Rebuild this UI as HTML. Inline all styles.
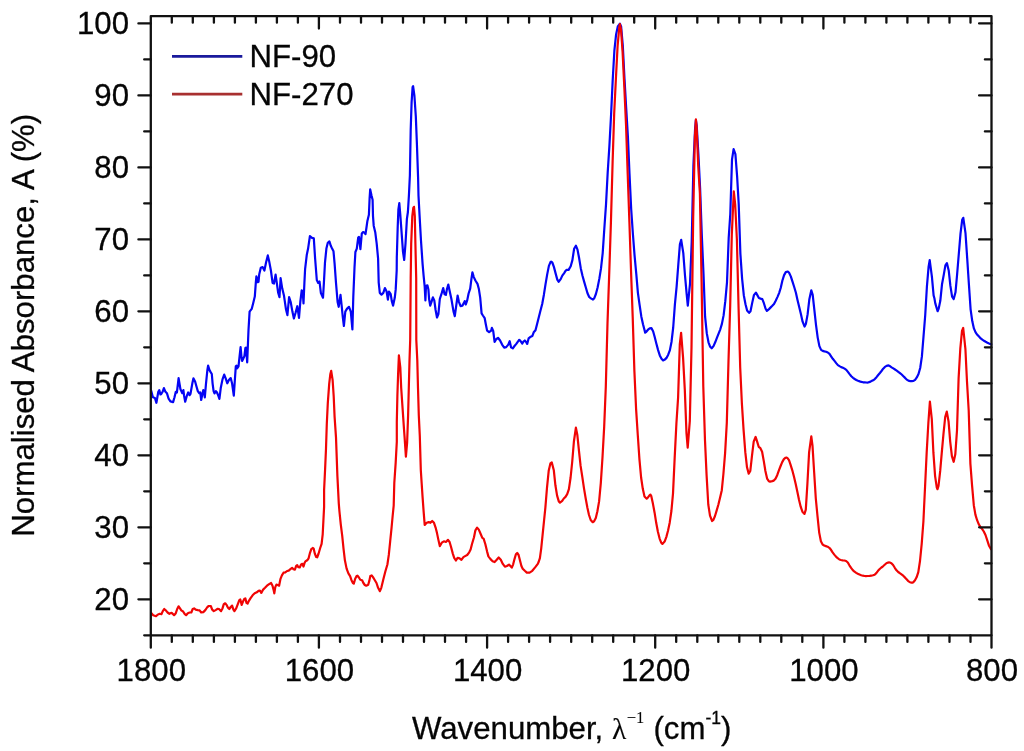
<!DOCTYPE html>
<html><head><meta charset="utf-8"><title>FTIR</title>
<style>
html,body{margin:0;padding:0;background:#fff;}
body{width:1024px;height:751px;overflow:hidden;font-family:"Liberation Sans",sans-serif;}
svg{display:block;will-change:transform;transform:translateZ(0)}
text{font-family:"Liberation Sans",sans-serif;fill:#050505;stroke:#050505;stroke-width:0.3px;}
.ser{font-family:"Liberation Serif",serif;stroke-width:0.1px;}
</style></head><body>
<svg width="1024" height="751" viewBox="0 0 1024 751">
<rect width="1024" height="751" fill="#fff"/>
<clipPath id="cp"><rect x="150.8" y="16.1" width="841.7" height="619.2"/></clipPath>
<g clip-path="url(#cp)">
<path d="M151.2,390.7 L152.9,397.3 L154.9,398.0 L156.4,402.8 L158.3,391.8 L159.3,390.1 L160.4,394.5 L161.4,393.8 L162.6,391.8 L163.9,388.1 L165.3,391.5 L166.9,393.2 L168.6,398.6 L170.4,401.4 L173.1,402.1 L174.5,397.3 L175.8,391.8 L176.9,392.5 L178.6,378.1 L180.4,389.0 L181.3,391.1 L182.3,393.2 L183.4,390.1 L184.1,395.9 L185.2,401.7 L186.8,395.9 L188.2,392.5 L189.6,395.2 L190.5,393.8 L192.3,383.6 L193.4,378.4 L195.1,381.5 L196.4,386.3 L197.8,391.1 L199.2,393.2 L200.3,392.5 L201.2,400.0 L202.3,394.5 L203.3,390.1 L204.0,391.8 L204.8,397.3 L206.0,383.6 L207.4,369.9 L208.1,365.7 L209.4,369.9 L210.5,371.9 L211.8,374.0 L212.6,383.6 L213.6,391.1 L214.5,393.4 L215.9,391.1 L217.0,392.5 L218.4,395.9 L219.4,398.9 L220.8,387.7 L222.5,379.4 L224.2,374.6 L225.6,378.1 L227.3,383.3 L228.9,380.1 L230.7,378.1 L232.1,383.6 L233.8,395.6 L234.8,380.8 L235.8,366.4 L236.6,365.7 L237.1,368.5 L238.5,366.4 L239.6,356.1 L240.6,347.2 L241.4,356.1 L242.1,360.9 L243.2,358.9 L244.4,356.1 L245.4,347.9 L246.1,347.6 L247.2,362.3 L248.1,339.7 L248.5,330.1 L249.6,311.6 L251.7,308.9 L253.3,302.7 L254.8,296.6 L255.8,282.9 L256.4,276.3 L257.7,282.2 L258.5,281.8 L259.2,274.6 L260.8,267.8 L262.6,267.1 L264.4,270.5 L266.1,262.3 L267.8,255.4 L269.1,260.9 L270.9,270.5 L272.6,282.9 L274.0,283.5 L275.6,274.6 L276.8,282.9 L278.1,292.4 L279.5,297.2 L280.6,278.1 L282.2,288.3 L283.9,295.2 L285.9,308.9 L287.4,315.1 L289.1,297.2 L290.7,302.0 L292.4,311.6 L293.9,318.5 L295.5,313.0 L297.3,306.2 L299.0,317.8 L300.3,302.0 L301.7,290.4 L302.7,291.1 L303.5,303.4 L304.4,282.9 L305.1,269.1 L306.8,254.7 L308.1,248.6 L309.9,236.2 L312.0,237.9 L313.8,238.3 L315.1,258.2 L316.8,280.1 L318.2,282.9 L319.5,281.5 L320.9,293.1 L323.0,297.7 L323.9,282.9 L325.0,262.3 L326.4,248.6 L327.8,242.8 L329.4,241.4 L330.8,245.8 L332.1,248.6 L333.5,251.3 L334.6,263.6 L336.0,282.9 L337.6,302.0 L338.7,306.8 L340.5,294.8 L341.7,306.2 L342.8,317.1 L343.9,326.0 L345.3,311.6 L346.9,308.9 L349.0,306.8 L350.8,311.6 L352.4,329.5 L353.3,296.6 L354.5,267.8 L355.4,252.0 L356.8,248.6 L358.2,237.6 L359.0,236.9 L360.4,249.2 L361.8,233.5 L363.1,232.1 L364.5,232.8 L365.5,234.2 L366.4,228.0 L367.4,220.9 L368.9,214.8 L369.6,198.3 L370.2,189.4 L371.5,195.6 L372.6,199.7 L373.0,216.1 L373.7,225.7 L375.3,232.6 L376.7,243.6 L378.1,258.6 L378.7,282.6 L379.8,292.9 L381.5,294.6 L383.3,292.9 L384.9,288.1 L386.6,291.5 L387.9,299.7 L389.0,291.5 L390.7,294.2 L391.8,301.1 L393.1,305.6 L394.8,297.6 L395.7,289.4 L396.7,270.2 L396.8,257.3 L397.7,227.1 L398.4,209.3 L399.3,203.1 L400.3,214.8 L401.6,232.6 L403.0,251.8 L404.2,260.0 L405.5,243.6 L406.9,218.9 L407.9,212.0 L408.9,195.6 L409.9,175.0 L410.7,129.8 L411.6,102.4 L412.6,87.1 L413.1,86.2 L414.4,95.6 L415.8,116.1 L416.9,143.6 L418.1,178.0 L418.5,195.6 L419.6,216.1 L421.0,240.8 L422.6,264.1 L423.6,275.7 L424.7,286.7 L425.4,300.4 L426.0,286.0 L427.4,285.3 L428.4,289.4 L429.1,299.0 L430.2,305.6 L431.5,301.8 L432.9,297.4 L434.3,300.4 L435.6,310.0 L437.0,317.5 L438.4,314.1 L439.8,299.0 L441.8,292.9 L443.2,288.1 L444.6,294.2 L445.9,294.9 L446.9,289.4 L448.3,284.6 L449.6,290.8 L451.4,299.0 L453.5,311.4 L454.8,316.2 L456.2,305.9 L457.6,295.6 L458.9,301.8 L460.6,306.1 L462.4,305.6 L463.8,303.1 L464.7,301.1 L465.8,304.5 L467.2,300.4 L468.6,293.5 L470.2,288.7 L471.3,279.8 L472.4,272.3 L473.8,277.1 L475.4,280.5 L477.5,283.9 L478.8,288.7 L480.2,297.6 L481.6,313.4 L482.9,315.5 L484.7,318.2 L485.7,323.7 L487.1,330.6 L489.1,332.2 L491.2,330.6 L491.9,327.9 L493.2,330.9 L494.6,341.9 L496.2,339.1 L498.0,337.8 L500.1,340.5 L502.1,344.6 L504.2,347.6 L506.2,347.1 L508.3,344.6 L509.7,341.2 L511.1,347.4 L512.8,348.4 L514.5,346.0 L516.3,343.9 L517.9,341.6 L519.3,339.8 L520.9,341.6 L522.3,343.5 L523.4,341.6 L524.8,340.5 L526.1,341.9 L527.2,343.9 L528.6,338.4 L530.2,337.1 L532.3,336.1 L533.7,332.3 L535.5,330.2 L537.1,323.9 L538.8,317.2 L540.5,310.6 L542.2,304.0 L543.9,294.7 L545.5,284.3 L547.2,274.4 L548.9,265.9 L550.6,261.9 L551.5,261.7 L552.3,262.5 L553.9,266.9 L555.6,273.4 L557.3,279.6 L558.6,281.8 L560.7,279.1 L562.3,275.6 L564.0,273.3 L565.7,270.7 L566.6,269.9 L567.4,269.9 L568.6,269.9 L570.7,266.3 L572.4,260.1 L574.1,248.8 L575.9,245.7 L577.5,249.6 L579.1,258.0 L580.8,268.4 L582.5,275.7 L584.2,281.9 L585.9,287.8 L587.5,293.2 L589.2,297.0 L590.9,298.4 L593.0,299.6 L594.3,298.2 L595.9,294.0 L597.6,287.5 L599.3,278.9 L601.0,268.4 L602.7,253.1 L604.3,229.0 L606.0,204.7 L607.7,172.4 L609.4,145.9 L611.1,114.2 L612.7,80.1 L614.4,50.3 L616.1,34.4 L617.8,26.4 L619.9,23.7 L621.1,26.4 L622.8,45.5 L624.5,78.7 L626.2,108.2 L627.9,136.6 L629.5,173.9 L631.2,209.2 L632.9,234.0 L634.6,255.9 L636.3,274.2 L637.9,292.8 L639.6,304.9 L641.3,316.4 L643.0,324.2 L645.2,332.6 L646.3,331.8 L648.0,329.7 L649.7,328.4 L651.4,328.1 L653.1,331.2 L654.7,337.0 L656.4,343.8 L658.1,350.1 L659.8,355.4 L661.5,358.8 L663.1,360.4 L664.8,359.6 L666.5,357.9 L668.2,354.7 L669.9,350.1 L671.5,342.0 L673.2,327.5 L674.9,304.3 L676.6,286.9 L678.3,264.6 L679.9,244.4 L681.2,239.8 L683.3,253.2 L685.0,275.5 L686.7,294.4 L687.8,305.6 L690.0,283.8 L691.7,242.4 L693.4,165.9 L695.1,128.4 L695.9,120.1 L696.7,125.4 L698.4,154.3 L700.1,188.1 L701.8,235.0 L703.5,273.8 L705.1,316.7 L706.8,333.4 L708.5,342.3 L710.2,346.8 L711.7,348.3 L713.5,346.1 L715.2,342.3 L716.9,337.9 L718.6,333.7 L720.3,329.3 L721.9,323.9 L723.6,315.4 L725.3,301.2 L727.0,282.3 L728.7,237.9 L730.3,214.0 L732.0,159.6 L733.6,149.2 L735.4,154.1 L737.1,176.1 L738.7,203.9 L740.4,253.9 L742.1,278.6 L743.8,295.2 L745.5,304.3 L747.1,310.5 L749.1,312.9 L750.5,311.3 L752.2,302.9 L753.9,295.2 L755.9,292.6 L757.2,294.9 L758.9,298.0 L760.6,298.6 L762.3,299.1 L763.9,303.2 L765.6,308.7 L766.9,310.9 L769.0,309.1 L770.7,307.4 L772.3,305.8 L774.0,304.0 L775.7,300.7 L777.4,297.1 L779.1,293.1 L780.7,288.0 L782.4,280.5 L784.1,275.1 L785.8,272.1 L787.8,271.5 L789.1,272.8 L790.8,276.4 L792.5,281.7 L794.2,287.0 L795.9,292.7 L797.5,299.9 L799.2,307.1 L800.9,314.1 L802.6,321.7 L804.6,326.6 L805.9,323.7 L807.6,314.4 L809.3,299.6 L811.3,290.3 L812.7,294.9 L814.3,309.3 L816.0,324.8 L817.7,337.6 L819.4,346.1 L821.1,349.9 L822.7,350.9 L824.4,351.4 L826.1,351.8 L827.8,352.5 L829.5,353.9 L831.1,356.3 L832.8,358.8 L834.5,360.9 L836.2,363.1 L837.9,365.1 L839.5,366.1 L841.2,367.1 L842.9,367.7 L844.6,368.6 L846.3,369.8 L847.9,371.9 L849.6,374.1 L851.3,376.2 L853.0,377.8 L854.7,379.0 L856.3,380.0 L858.0,380.8 L859.7,381.4 L861.4,381.9 L863.1,382.3 L864.7,382.4 L866.4,382.5 L867.2,382.6 L868.1,382.5 L869.8,381.9 L871.5,381.1 L873.1,380.3 L874.8,379.1 L876.5,377.2 L878.2,375.0 L879.9,373.0 L881.5,371.0 L883.2,368.7 L884.9,366.9 L886.6,365.9 L888.5,365.4 L889.9,366.1 L891.6,367.3 L893.3,368.4 L895.0,369.5 L896.7,370.6 L898.3,371.8 L900.0,373.1 L901.7,374.5 L903.4,376.2 L905.1,377.9 L906.7,379.6 L908.4,380.6 L910.4,381.2 L911.8,381.1 L913.5,380.9 L915.1,379.8 L916.8,377.4 L918.5,374.0 L920.2,368.0 L921.9,356.4 L923.5,336.7 L925.2,315.5 L926.9,286.7 L928.6,266.7 L929.7,260.1 L931.9,276.7 L933.6,295.4 L934.4,298.2 L935.3,303.4 L937.6,311.2 L938.7,308.6 L940.3,300.8 L942.0,284.3 L943.7,275.1 L945.4,265.4 L946.9,263.1 L948.7,270.4 L950.4,285.9 L952.1,296.7 L953.7,299.0 L955.5,292.3 L957.1,274.5 L958.8,254.0 L960.5,233.7 L962.2,219.8 L963.3,217.8 L965.5,233.2 L967.2,258.4 L968.9,284.2 L970.6,309.3 L972.3,321.3 L973.9,328.4 L975.6,332.4 L977.3,334.8 L979.0,336.6 L980.7,338.4 L982.3,339.7 L984.0,340.8 L985.7,341.8 L987.4,342.7 L989.1,343.5 L990.7,344.2 L991.6,344.4" fill="none" stroke="#0404f4" stroke-width="2.2" stroke-linejoin="round" stroke-linecap="round"/>
<path d="M151.2,612.9 L153.2,615.2 L156.0,616.2 L158.0,614.5 L159.8,613.8 L161.4,614.2 L162.8,611.1 L164.2,609.0 L165.8,610.4 L167.6,612.5 L169.4,613.8 L171.1,612.9 L172.4,613.4 L174.1,615.2 L175.8,613.2 L177.2,609.0 L178.6,606.3 L180.0,608.4 L181.3,610.4 L183.1,611.5 L184.8,614.2 L186.1,615.2 L187.8,613.2 L189.6,612.5 L191.3,612.5 L192.7,609.0 L194.1,608.4 L195.7,609.7 L197.8,610.1 L199.6,610.4 L201.2,612.5 L203.3,612.1 L205.3,610.1 L207.4,607.0 L208.8,606.0 L210.8,606.0 L212.2,609.7 L213.8,611.1 L215.6,610.1 L217.7,608.8 L219.0,609.0 L221.1,611.1 L222.5,608.4 L223.8,604.2 L225.2,603.3 L226.6,604.9 L228.0,607.7 L229.3,609.0 L230.7,607.0 L232.1,605.6 L233.4,609.7 L234.4,611.1 L236.2,608.4 L238.0,603.6 L239.3,600.1 L240.3,599.5 L241.7,604.9 L243.0,601.5 L244.4,598.8 L245.4,598.4 L246.5,602.9 L247.6,603.6 L248.9,600.8 L250.6,598.1 L252.6,595.3 L254.7,593.3 L256.8,592.3 L258.5,590.9 L259.9,590.5 L261.3,592.9 L262.9,589.9 L265.0,587.8 L267.0,585.7 L269.1,584.1 L271.1,583.0 L272.5,585.7 L273.6,589.9 L274.3,593.3 L275.3,587.1 L276.4,584.6 L277.7,585.0 L279.1,585.7 L280.5,578.8 L281.9,575.4 L283.5,572.7 L285.3,572.4 L287.1,571.0 L288.7,570.6 L290.4,569.2 L292.1,567.9 L293.5,569.2 L294.9,569.7 L296.2,565.8 L297.2,565.1 L298.3,567.2 L299.7,567.5 L301.1,564.5 L302.4,563.8 L303.5,566.5 L304.5,563.1 L305.4,561.4 L307.2,560.3 L308.6,558.3 L310.0,552.8 L311.3,549.1 L312.7,548.0 L313.7,548.7 L314.8,553.5 L316.1,556.9 L317.2,557.3 L318.6,553.5 L320.2,548.0 L321.6,543.9 L322.7,534.3 L323.4,520.6 L324.1,506.9 L324.1,489.9 L325.1,469.3 L326.0,448.7 L326.8,423.7 L327.8,403.1 L329.2,383.9 L330.3,374.3 L331.2,370.9 L332.6,379.8 L333.7,396.3 L334.6,416.9 L336.0,437.4 L337.4,476.1 L338.8,503.6 L339.4,511.0 L340.8,524.7 L342.2,535.6 L343.6,549.4 L344.9,560.3 L346.6,568.6 L348.4,573.4 L350.1,576.1 L351.5,580.2 L352.9,583.0 L353.8,583.6 L355.2,578.8 L356.6,576.1 L357.5,575.7 L358.9,577.5 L360.3,579.8 L362.1,580.2 L363.4,583.0 L364.8,585.0 L366.2,585.7 L368.2,584.7 L369.3,580.9 L370.3,576.1 L371.7,575.4 L373.0,577.1 L374.4,579.5 L376.5,583.0 L378.1,587.8 L379.9,591.2 L381.3,587.8 L383.3,579.5 L385.4,571.3 L387.4,564.5 L388.8,554.9 L390.2,541.1 L391.6,527.4 L392.6,516.5 L393.7,505.5 L394.3,483.0 L395.7,462.4 L396.8,441.9 L396.8,422.3 L397.4,394.9 L398.1,374.3 L398.9,355.4 L400.3,367.4 L401.2,388.0 L402.6,408.6 L404.0,429.1 L404.6,437.4 L405.9,456.6 L407.1,443.0 L408.1,415.4 L408.8,388.0 L409.5,360.6 L410.2,340.0 L410.7,278.0 L411.2,243.6 L412.3,216.1 L413.3,207.9 L414.0,206.8 L414.8,216.1 L415.4,243.6 L416.2,278.0 L416.3,340.0 L417.3,360.6 L418.0,388.0 L418.8,415.4 L419.8,436.0 L420.8,470.0 L421.7,483.7 L422.6,497.4 L423.6,511.1 L424.7,524.9 L426.7,522.8 L428.8,522.1 L430.4,522.8 L432.2,521.0 L434.0,522.8 L435.6,527.6 L437.0,533.1 L438.4,539.9 L439.8,546.1 L441.8,542.7 L443.9,541.3 L445.9,542.0 L448.0,539.9 L449.6,542.0 L451.0,546.8 L452.8,553.6 L454.2,557.8 L455.9,560.5 L457.6,557.8 L459.6,558.4 L461.4,559.8 L463.4,557.1 L465.1,556.1 L467.2,555.0 L469.2,552.3 L470.6,549.5 L472.0,544.0 L474.0,537.2 L475.4,530.3 L477.1,527.6 L478.8,529.6 L480.9,534.5 L482.3,537.9 L483.6,538.6 L485.3,544.0 L487.1,551.6 L488.4,556.4 L490.5,559.1 L492.6,561.2 L494.6,562.1 L496.7,559.8 L498.7,557.5 L500.8,559.8 L502.8,563.9 L504.9,566.7 L506.9,566.0 L509.0,564.6 L510.4,566.0 L511.8,567.6 L513.1,564.6 L514.5,559.1 L515.9,554.3 L517.2,553.0 L518.6,555.0 L520.0,560.5 L521.4,566.0 L522.7,568.7 L524.8,570.8 L526.8,572.6 L529.6,572.6 L532.3,570.8 L535.1,567.4 L537.8,563.9 L538.5,562.3 L539.9,558.2 L541.2,548.6 L542.6,534.9 L544.0,521.1 L545.4,507.4 L547.0,487.6 L548.7,470.8 L550.4,463.5 L551.8,462.5 L553.8,470.2 L555.4,485.3 L557.1,495.6 L558.8,501.4 L560.0,502.6 L562.2,500.9 L563.8,498.5 L565.5,496.9 L567.2,494.2 L568.9,489.1 L570.6,477.5 L572.2,462.0 L573.9,441.5 L575.9,427.6 L577.3,434.6 L579.0,451.2 L580.6,465.9 L582.3,476.9 L584.0,488.4 L585.7,498.5 L587.4,507.8 L589.0,515.0 L590.7,520.0 L592.7,522.2 L594.1,521.3 L595.8,518.1 L597.4,511.2 L599.1,501.4 L600.8,483.1 L602.5,457.2 L604.2,426.4 L605.8,386.8 L607.5,323.1 L609.2,274.2 L610.9,222.9 L612.6,162.5 L614.2,113.1 L615.9,78.7 L617.6,45.9 L619.3,27.2 L619.9,24.1 L621.0,29.4 L622.6,52.1 L624.3,86.6 L626.0,124.2 L627.7,174.0 L629.4,222.0 L631.0,270.0 L632.7,316.9 L634.4,371.1 L636.1,409.1 L637.8,435.2 L639.4,458.8 L641.1,477.5 L642.8,488.8 L644.5,496.5 L646.7,498.7 L647.8,497.7 L649.5,495.4 L650.4,494.6 L651.2,495.8 L652.9,503.6 L654.6,512.7 L656.2,522.8 L657.9,531.8 L659.6,538.6 L661.3,542.8 L662.4,543.9 L664.6,541.6 L666.3,537.1 L668.0,530.8 L669.7,522.7 L671.4,511.0 L673.0,493.6 L674.7,457.4 L676.4,423.5 L678.1,397.6 L679.8,344.1 L681.1,332.9 L683.1,358.1 L684.8,389.6 L686.5,433.5 L687.7,447.6 L689.8,421.2 L691.5,347.6 L693.2,216.8 L694.9,136.6 L695.9,119.4 L696.6,126.6 L698.2,165.5 L699.9,193.7 L701.6,282.2 L703.3,386.7 L705.0,440.5 L706.6,475.4 L708.3,504.7 L710.0,515.7 L712.1,521.0 L713.4,519.9 L715.0,516.0 L716.7,510.4 L718.4,504.5 L720.1,497.6 L721.8,490.2 L723.4,474.0 L725.1,453.1 L726.8,422.9 L728.5,361.0 L730.2,305.4 L731.8,234.5 L733.8,191.3 L735.2,204.6 L736.9,239.8 L738.6,308.8 L740.2,367.5 L741.9,403.8 L743.6,430.1 L745.3,452.2 L747.0,467.3 L748.7,473.6 L750.3,471.0 L752.0,455.7 L753.7,441.7 L755.6,436.9 L757.0,441.1 L758.7,446.8 L760.4,448.2 L762.1,451.7 L763.8,461.1 L765.4,471.0 L767.1,478.6 L768.8,481.2 L770.0,481.6 L772.2,481.1 L773.8,480.6 L775.5,478.8 L777.2,475.2 L778.9,470.4 L780.6,466.0 L782.2,462.1 L783.9,459.1 L785.6,457.7 L786.4,457.5 L787.3,457.9 L789.0,460.2 L790.6,464.9 L792.3,470.3 L794.0,476.7 L795.7,484.0 L797.4,492.0 L799.0,499.7 L800.7,506.7 L802.4,511.7 L804.5,513.9 L805.8,509.6 L807.4,483.7 L809.1,452.4 L811.3,436.4 L812.5,445.6 L814.2,473.0 L815.8,498.5 L817.5,516.2 L819.2,532.6 L820.9,541.3 L822.6,544.5 L824.2,545.5 L825.9,546.1 L827.6,546.7 L829.3,547.8 L831.0,549.8 L832.6,552.4 L834.3,554.6 L836.0,556.6 L837.7,558.2 L839.4,559.5 L841.0,560.0 L842.7,560.4 L844.4,560.5 L846.1,561.0 L847.8,562.5 L849.4,565.3 L851.1,567.9 L852.8,570.1 L854.5,571.7 L856.2,572.9 L857.8,573.8 L859.5,574.6 L861.2,575.3 L862.9,575.7 L864.6,576.0 L865.8,576.1 L867.9,576.0 L869.6,575.9 L871.3,575.7 L873.0,575.3 L874.6,574.7 L876.3,573.1 L878.0,570.8 L879.7,569.0 L881.4,567.5 L883.0,566.3 L884.7,564.8 L886.4,563.3 L888.1,562.6 L889.1,562.4 L889.8,562.5 L891.4,563.2 L893.1,565.0 L894.8,567.8 L896.5,570.3 L898.2,572.0 L899.8,573.2 L901.5,574.4 L903.2,575.7 L904.9,577.4 L906.6,579.3 L908.2,581.1 L909.9,582.2 L911.6,582.6 L912.4,582.7 L913.3,582.3 L915.0,580.3 L916.6,577.3 L918.3,572.1 L920.0,561.0 L921.7,543.9 L923.4,521.5 L925.0,488.0 L926.7,452.1 L928.4,422.2 L929.9,401.7 L931.8,419.2 L933.4,452.7 L935.1,476.1 L936.8,487.6 L937.5,489.2 L938.5,486.0 L940.2,470.9 L941.8,452.4 L943.5,433.7 L945.2,417.0 L946.8,411.6 L948.6,421.8 L950.2,441.6 L951.9,456.2 L953.7,461.8 L955.3,454.3 L957.0,430.3 L958.6,378.4 L960.3,348.7 L962.0,330.9 L963.2,328.0 L965.4,348.8 L967.0,381.7 L968.7,410.5 L970.4,463.9 L972.1,485.9 L973.8,505.2 L975.4,514.6 L977.1,520.2 L978.8,524.3 L980.5,527.1 L982.2,529.1 L983.8,531.5 L985.5,535.0 L987.2,540.1 L988.9,545.4 L990.6,548.6 L991.0,549.2" fill="none" stroke="#f00404" stroke-width="2.2" stroke-linejoin="round" stroke-linecap="round"/>
</g>
<g stroke="#111" stroke-width="2.3" fill="none" stroke-linecap="round" stroke-linejoin="round">
<path d="M150.8,16.1 H991.5 V635.3 H150.8 Z"/>
<path d="M150.8,635.3 v12.4 M171.8,635.3 v6.6 M171.8,16.1 v6.6 M192.8,635.3 v6.6 M192.8,16.1 v6.6 M213.9,635.3 v6.6 M213.9,16.1 v6.6 M234.9,635.3 v6.6 M234.9,16.1 v6.6 M255.9,635.3 v6.6 M255.9,16.1 v6.6 M276.9,635.3 v6.6 M276.9,16.1 v6.6 M297.9,635.3 v6.6 M297.9,16.1 v6.6 M318.9,635.3 v12.4 M318.9,16.1 v12.4 M340.0,635.3 v6.6 M340.0,16.1 v6.6 M361.0,635.3 v6.6 M361.0,16.1 v6.6 M382.0,635.3 v6.6 M382.0,16.1 v6.6 M403.0,635.3 v6.6 M403.0,16.1 v6.6 M424.0,635.3 v6.6 M424.0,16.1 v6.6 M445.0,635.3 v6.6 M445.0,16.1 v6.6 M466.1,635.3 v6.6 M466.1,16.1 v6.6 M487.1,635.3 v12.4 M487.1,16.1 v12.4 M508.1,635.3 v6.6 M508.1,16.1 v6.6 M529.1,635.3 v6.6 M529.1,16.1 v6.6 M550.1,635.3 v6.6 M550.1,16.1 v6.6 M571.2,635.3 v6.6 M571.2,16.1 v6.6 M592.2,635.3 v6.6 M592.2,16.1 v6.6 M613.2,635.3 v6.6 M613.2,16.1 v6.6 M634.2,635.3 v6.6 M634.2,16.1 v6.6 M655.2,635.3 v12.4 M655.2,16.1 v12.4 M676.2,635.3 v6.6 M676.2,16.1 v6.6 M697.3,635.3 v6.6 M697.3,16.1 v6.6 M718.3,635.3 v6.6 M718.3,16.1 v6.6 M739.3,635.3 v6.6 M739.3,16.1 v6.6 M760.3,635.3 v6.6 M760.3,16.1 v6.6 M781.3,635.3 v6.6 M781.3,16.1 v6.6 M802.3,635.3 v6.6 M802.3,16.1 v6.6 M823.4,635.3 v12.4 M823.4,16.1 v12.4 M844.4,635.3 v6.6 M844.4,16.1 v6.6 M865.4,635.3 v6.6 M865.4,16.1 v6.6 M886.4,635.3 v6.6 M886.4,16.1 v6.6 M907.4,635.3 v6.6 M907.4,16.1 v6.6 M928.4,635.3 v6.6 M928.4,16.1 v6.6 M949.5,635.3 v6.6 M949.5,16.1 v6.6 M970.5,635.3 v6.6 M970.5,16.1 v6.6 M991.5,635.3 v12.4 M150.8,635.3 h-6.6 M150.8,599.3 h-12.4 M991.5,599.3 h-12.4 M150.8,563.3 h-6.6 M991.5,563.3 h-6.6 M150.8,527.3 h-12.4 M991.5,527.3 h-12.4 M150.8,491.3 h-6.6 M991.5,491.3 h-6.6 M150.8,455.3 h-12.4 M991.5,455.3 h-12.4 M150.8,419.3 h-6.6 M991.5,419.3 h-6.6 M150.8,383.3 h-12.4 M991.5,383.3 h-12.4 M150.8,347.3 h-6.6 M991.5,347.3 h-6.6 M150.8,311.3 h-12.4 M991.5,311.3 h-12.4 M150.8,275.4 h-6.6 M991.5,275.4 h-6.6 M150.8,239.4 h-12.4 M991.5,239.4 h-12.4 M150.8,203.4 h-6.6 M991.5,203.4 h-6.6 M150.8,167.4 h-12.4 M991.5,167.4 h-12.4 M150.8,131.4 h-6.6 M991.5,131.4 h-6.6 M150.8,95.4 h-12.4 M991.5,95.4 h-12.4 M150.8,59.4 h-6.6 M991.5,59.4 h-6.6 M150.8,23.4 h-12.4 M991.5,23.4 h-12.4"/>
</g>
<g font-size="31.2">
<text x="151.3" y="681.3" text-anchor="middle">1800</text>
<text x="319.4" y="681.3" text-anchor="middle">1600</text>
<text x="487.6" y="681.3" text-anchor="middle">1400</text>
<text x="655.7" y="681.3" text-anchor="middle">1200</text>
<text x="823.9" y="681.3" text-anchor="middle">1000</text>
<text x="992.0" y="681.3" text-anchor="middle">800</text>
<text x="129" y="609.9" text-anchor="end">20</text>
<text x="129" y="537.9" text-anchor="end">30</text>
<text x="129" y="465.9" text-anchor="end">40</text>
<text x="129" y="393.9" text-anchor="end">50</text>
<text x="129" y="321.9" text-anchor="end">60</text>
<text x="129" y="250.0" text-anchor="end">70</text>
<text x="129" y="178.0" text-anchor="end">80</text>
<text x="129" y="106.0" text-anchor="end">90</text>
<text x="129" y="34.0" text-anchor="end">100</text>
</g>
<path d="M172,56.3 H242.3" stroke="#1a1a9c" stroke-width="2.7"/>
<path d="M172,94.1 H242.3" stroke="#a83030" stroke-width="2.7"/>
<text x="249.5" y="66.8" font-size="31.2">NF-90</text>
<text x="249.5" y="104.9" font-size="31.2">NF-270</text>
<text x="412" y="738.8" font-size="31.2">Wavenumber, <tspan class="ser" font-size="29.5">λ</tspan><tspan class="ser" font-size="16.5" dy="-15.5" dx="0.5">−1</tspan><tspan dy="15.5" dx="0.5"> (cm</tspan><tspan font-size="17.5" dy="-15">-1</tspan><tspan dy="15">)</tspan></text>
<text transform="translate(33.5,536.8) rotate(-90)" font-size="31.2">Normalised Absorbance, A (%)</text>
</svg>
</body></html>
